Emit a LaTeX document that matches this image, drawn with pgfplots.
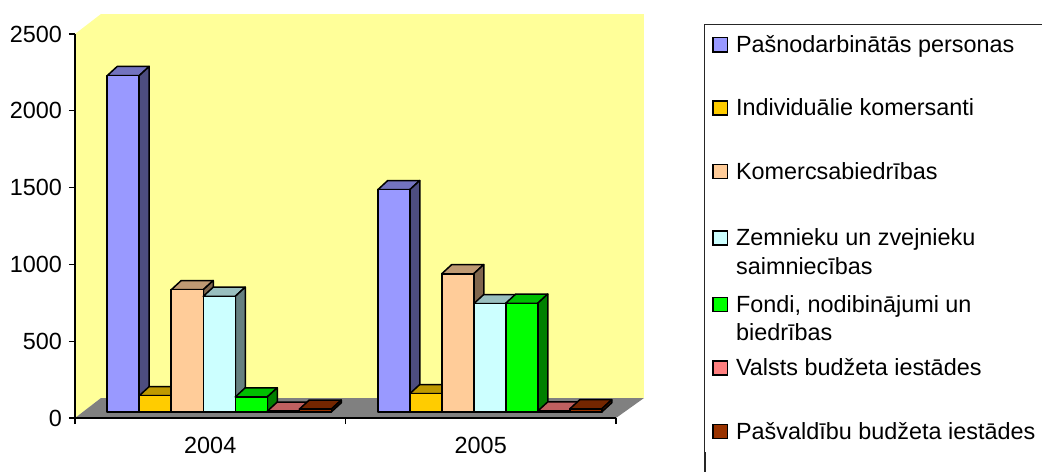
\documentclass[border=0pt]{standalone}
\usepackage{pgfplots}
\usepackage{pgfplotstable}
\pgfplotsset{compat=1.18}
\usepackage{fontspec}
\setmainfont{Liberation Sans}

\definecolor{wall}{HTML}{FFFF99}
\definecolor{floorc}{HTML}{808080}
\definecolor{c1f}{HTML}{9999FF}\definecolor{c1t}{HTML}{7373BF}\definecolor{c1s}{HTML}{4D4D80}
\definecolor{c2f}{HTML}{FFCC00}\definecolor{c2t}{HTML}{BF9900}\definecolor{c2s}{HTML}{806600}
\definecolor{c3f}{HTML}{FFCC99}\definecolor{c3t}{HTML}{BF9973}\definecolor{c3s}{HTML}{80664D}
\definecolor{c4f}{HTML}{CCFFFF}\definecolor{c4t}{HTML}{99BFBF}\definecolor{c4s}{HTML}{668080}
\definecolor{c5f}{HTML}{00FF00}\definecolor{c5t}{HTML}{00BF00}\definecolor{c5s}{HTML}{008000}
\definecolor{c6f}{HTML}{FF8080}\definecolor{c6t}{HTML}{BF6060}\definecolor{c6s}{HTML}{804040}
\definecolor{c7f}{HTML}{993300}\definecolor{c7t}{HTML}{732600}\definecolor{c7s}{HTML}{4D1A00}

\pgfplotstableread{
x pas ind kom zem fon val pav
0 2190 106 796 753 98 5 18
1 1447 119 900 705 708 6 20
}\data

% 3D bar (prism) drawn at each data point; height from the value
\pgfdeclareplotmark{prism}{%
  \pgfmathsetmacro{\h}{\val*0.0768}%
  \pgfmathsetmacro{\xl}{-51.5+16*\pk}%
  \pgfmathsetmacro{\xr}{\xl+16}%
  \pgfmathsetmacro{\xa}{\xl+5}%
  \pgfmathsetmacro{\xb}{\xr+5}%
  \pgfmathsetmacro{\yb}{3-\h}%
  \pgfmathsetmacro{\ybb}{7.6-\h}%
  \path[fill=\ptop,draw=black,line width=0.75pt,line join=round]
    (\xl pt,3pt)--(\xr pt,3pt)--(\xb pt,7.6pt)--(\xa pt,7.6pt)--cycle;
  \path[fill=\pside,draw=black,line width=0.75pt,line join=round]
    (\xr pt,3pt)--(\xb pt,7.6pt)--(\xb pt,\ybb pt)--(\xr pt,\yb pt)--cycle;
  \path[fill=\pfront,draw=black,line width=0.75pt,line join=round]
    (\xl pt,\yb pt) rectangle (\xr pt,3pt);
}

\pgfplotsset{
  prism/.code n args={4}{\def\pfront{#1}\def\ptop{#2}\def\pside{#3}\def\pk{#4}},
  pstyle/.style n args={5}{only marks, mark=prism, prism={#1}{#2}{#3}{#4},
    visualization depends on={\thisrow{#5}\as\val},
    legend image code/.code={\draw[fill=#1,draw=black,line width=0.75pt] (0.35pt,0.35pt) rectangle (7.45pt,7.45pt);}},
}

\begin{document}
\begin{tikzpicture}
\useasboundingbox (-37.5pt,-26.5pt) rectangle (483.5pt,209pt);
% walls and floor
\fill[wall] (13pt,10pt) rectangle (284.5pt,202pt);
\fill[wall] (0pt,0pt)--(13pt,10pt)--(13pt,202pt)--(0pt,192pt)--cycle;
\fill[floorc] (0pt,0pt)--(13pt,10pt)--(284.5pt,10pt)--(270.5pt,0pt)--cycle;
% legend frame (runs past the right and bottom edges, as in the reference)
\draw[black!85,line width=0.6pt] (490pt,196.5pt)--(315pt,196.5pt)--(315pt,-35pt);
\begin{axis}[
  scale only axis, width=270.5pt, height=192pt,
  at={(0,0)}, anchor=south west,
  xmin=-0.5, xmax=1.5, ymin=0, ymax=2500,
  clip=false,
  axis x line*=bottom, axis y line*=left,
  axis line style={black, line width=0.6pt, -},
  xtick={-0.5,0.5,1.5}, xticklabels={,,},
  extra x ticks={0,1}, extra x tick labels={2004,2005},
  extra x tick style={major tick length=0pt, xticklabel style={yshift=-6pt}},
  ytick={0,500,...,2500},
  tick align=outside,
  major tick length=3pt,
  tick style={black, line width=0.6pt},
  /pgf/number format/assume math mode=true,
  /pgf/number format/1000 sep={},
  every tick label/.append style={font=\fontsize{11.7pt}{14.25pt}\selectfont},
  legend style={at={(1.1645,1.0234)}, anchor=north west, draw=none,
    inner xsep=3.5pt, inner ysep=3pt, row sep=17.75pt, column sep=2pt,
    font=\fontsize{11.7pt}{14.25pt}\selectfont,
    cells={anchor=base west, inner sep=0pt}},
]
\addplot[pstyle={c1f}{c1t}{c1s}{0}{pas}] table[x=x,y=pas]{\data};
\addlegendentry{Pašnodarbinātās personas}
\addplot[pstyle={c2f}{c2t}{c2s}{1}{ind}] table[x=x,y=ind]{\data};
\addlegendentry{Individuālie komersanti}
\addplot[pstyle={c3f}{c3t}{c3s}{2}{kom}] table[x=x,y=kom]{\data};
\addlegendentry{Komercsabiedrības}
\addplot[pstyle={c4f}{c4t}{c4s}{3}{zem}] table[x=x,y=zem]{\data};
\addlegendentry{\begin{tabular}[t]{@{}l@{}}Zemnieku un zvejnieku\\saimniecības\end{tabular}}
\addplot[pstyle={c5f}{c5t}{c5s}{4}{fon}] table[x=x,y=fon]{\data};
\addlegendentry{\begin{tabular}[t]{@{}l@{}}Fondi, nodibinājumi un\\biedrības\end{tabular}}
\addplot[pstyle={c6f}{c6t}{c6s}{5}{val}] table[x=x,y=val]{\data};
\addlegendentry{Valsts budžeta iestādes}
\addplot[pstyle={c7f}{c7t}{c7s}{6}{pav}] table[x=x,y=pav]{\data};
\addlegendentry{Pašvaldību budžeta iestādes}
\end{axis}
\end{tikzpicture}
\end{document}
